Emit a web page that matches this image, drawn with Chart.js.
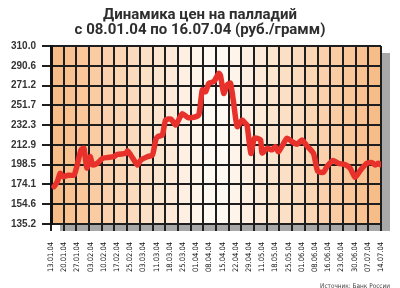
<!DOCTYPE html>
<html>
<head>
<meta charset="utf-8">
<script src="https://cdn.jsdelivr.net/npm/chart.js@4.4.1/dist/chart.umd.min.js"></script>
<style>
html, body { margin: 0; padding: 0; background: #fff; }
canvas { display: block; }
</style>
</head>
<body>
<canvas id="myChart" width="400" height="288"></canvas>
<script>
// chart text
const titleLines = ['Динамика цен на палладий', 'с 08.01.04 по 16.07.04 (руб./грамм)'];
const sourceText = 'Источник: Банк России';

// x axis labels (spread evenly under the 26 weekly columns)
const weekLabels = ['13.01.04', '20.01.04', '27.01.04', '03.02.04', '10.02.04', '17.02.04', '25.02.04',
    '03.03.04', '11.03.04', '18.03.04', '25.03.04', '01.04.04', '08.04.04', '15.04.04', '22.04.04',
    '29.04.04', '11.05.04', '18.05.04', '25.05.04', '01.06.04', '08.06.04', '16.06.04', '23.06.04',
    '30.06.04', '07.07.04', '14.07.04'];
const columnCount = 26;

// y axis
const yTickValues = [135.2, 154.6, 174.1, 193.5, 212.9, 232.3, 251.7, 271.2, 290.6, 310.0];
const yTickLabels = ['135.2', '154.6', '174.1', '198.5', '212.9', '232.3', '251.7', '271.2', '290.6', '310.0'];

// price series: position in weekly columns, rub/gram
const pricePos = [0.24, 0.47, 0.73, 0.92, 1.34, 1.81, 2.04, 2.36, 2.59, 2.83, 3.09, 3.28, 3.67, 4.06,
    4.48, 4.95, 5.24, 5.89, 6.03, 6.28, 6.81, 7.07, 7.6, 7.99, 8.25, 8.41, 8.77, 9.03, 9.43, 9.82,
    9.95, 10.35, 10.74, 11.26, 11.65, 11.92, 12.18, 12.44, 12.83, 13.22, 13.35, 13.61, 13.88, 14.14,
    14.38, 14.67, 15.06, 15.32, 15.45, 15.75, 16.03, 16.5, 16.63, 17.02, 17.42, 17.67, 17.93, 18.59,
    18.98, 19.38, 19.77, 20.16, 20.68, 21.01, 21.47, 21.76, 22.19, 22.65, 23.17, 23.57, 23.96, 24.35,
    24.88, 25.29, 25.53, 25.79, 25.92];
const priceValues = [171.9, 176, 185, 181.7, 183, 183.3, 192, 207.9, 209.5, 190.2, 201.3, 193.2, 195, 199.7,
    200.5, 201.3, 203.6, 204.6, 207, 203, 193.2, 198, 201.3, 203, 217.7, 221, 222.6, 237.3, 238.3, 232.4,
    235, 243.5, 240, 240, 242.5, 266.8, 265, 273.4, 275, 283.2, 281, 263.5, 271.7, 273.4,
    255, 230.8, 237.3, 234, 232.4, 204.6, 219.4, 217.8, 205, 209.5, 208, 211.2, 206.2, 219.4,
    216.2, 213.5, 217.8, 212, 204.6, 187, 186, 192, 197.5, 194.8, 193.5, 190, 181, 187.5,
    194.8, 195.5, 193.2, 194.8, 193.5];

const narrowFamily = '"Liberation Sans Narrow", "DejaVu Sans Condensed", "Liberation Sans", sans-serif';

// font size that makes text come out at a given width
function fitSize(ctx, text, family, weight, width) {
    ctx.font = weight + ' 20px ' + family;
    return 20 * width / ctx.measureText(text).width;
}

document.addEventListener('DOMContentLoaded', function () {
    const canvas = document.getElementById('myChart');
    const ctx = canvas.getContext('2d');
    const xLabelSize = fitSize(ctx, '13.01.04', narrowFamily, 'normal', 30);
    const sourceSize = fitSize(ctx, sourceText, narrowFamily, 'normal', 70);

    const orange = [247, 186, 132];
    const white = [255, 252, 247];

    const backdrop = {
        id: 'backdrop',
        beforeDraw(chart) {
            const { ctx, chartArea: a, scales } = chart;
            ctx.save();
            // grey drop shadow
            ctx.fillStyle = '#a8a8a8';
            ctx.fillRect(a.left + 9, a.top + 7, a.right - a.left, a.bottom - a.top);
            // orange-white-orange columns
            for (let i = 0; i < columnCount; i++) {
                const x0 = scales.x.getPixelForValue(i);
                const x1 = scales.x.getPixelForValue(i + 1);
                const t = Math.abs(i + 0.5 - columnCount / 2) / (columnCount / 2);
                const c = white.map((w, k) => Math.round(w + (orange[k] - w) * t));
                ctx.fillStyle = 'rgb(' + c.join(',') + ')';
                ctx.fillRect(x0, a.top, x1 - x0 + 0.5, a.bottom - a.top);
            }
            ctx.restore();
        },
        afterDraw(chart) {
            const ctx = chart.ctx;
            ctx.save();
            ctx.fillStyle = '#2e2e2e';
            ctx.textAlign = 'center';
            ctx.font = 'bold 15px Roboto, sans-serif';
            ctx.fillText(titleLines[0], 200, 18.5);
            ctx.fillText(titleLines[1], 200, 34);
            ctx.font = sourceSize.toFixed(2) + 'px ' + narrowFamily;
            ctx.fillStyle = '#444';
            ctx.textAlign = 'right';
            ctx.fillText(sourceText, 390, 288);
            ctx.restore();
        }
    };

    new Chart(ctx, {
        type: 'line',
        data: {
            labels: weekLabels,
            datasets: [{
                xAxisID: 'x',
                data: pricePos.map((p, i) => ({ x: p, y: priceValues[i] })),
                borderColor: '#e8312a',
                borderWidth: 5.5,
                pointRadius: 0,
                tension: 0.2,
                borderJoinStyle: 'round',
                borderCapStyle: 'round'
            }]
        },
        options: {
            responsive: false,
            animation: false,
            layout: { padding: { top: 46, right: 19, left: 0, bottom: 0 } },
            plugins: { legend: { display: false }, tooltip: { enabled: false } },
            scales: {
                x: {
                    type: 'linear',
                    position: 'bottom',
                    weight: 0,
                    min: 0,
                    max: columnCount,
                    afterBuildTicks: (scale) => {
                        scale.ticks = [];
                        for (let i = 0; i <= columnCount; i++) scale.ticks.push({ value: i });
                    },
                    ticks: { display: false },
                    grid: { color: '#1e1e1e', lineWidth: 2, tickLength: 7 },
                    border: { color: '#1e1e1e', width: 2 }
                },
                xl: {
                    type: 'category',
                    position: 'bottom',
                    weight: 1,
                    offset: false,
                    afterFit: (scale) => { scale.height = 57; },
                    ticks: {
                        autoSkip: false,
                        minRotation: 90,
                        maxRotation: 90,
                        padding: 3,
                        color: '#111',
                        font: { family: narrowFamily, size: xLabelSize }
                    },
                    grid: { display: false },
                    border: { display: false }
                },
                y: {
                    min: 135.2,
                    max: 310,
                    afterBuildTicks: (scale) => {
                        scale.ticks = yTickValues.map(v => ({ value: v }));
                    },
                    afterFit: (scale) => { scale.width = 51; },
                    ticks: {
                        padding: 6,
                        color: '#333',
                        font: { family: '"Liberation Sans", Arial, sans-serif', size: 10, weight: 'bold' },
                        callback: (v, i) => yTickLabels[i]
                    },
                    grid: { color: '#1e1e1e', lineWidth: 2, tickLength: 9 },
                    border: { color: '#111', width: 3 }
                }
            }
        },
        plugins: [backdrop]
    });
});
</script>
</body>
</html>
